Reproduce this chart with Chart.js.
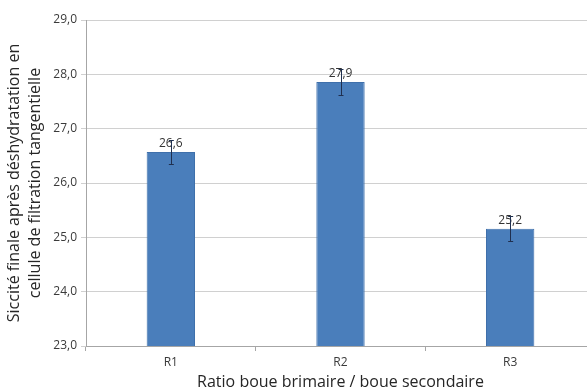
<!DOCTYPE html>
<html>
<head>
<meta charset="utf-8">
<script src="https://cdn.jsdelivr.net/npm/chart.js@4"></script>
<style>
  html, body { margin: 0; padding: 0; background: #fff; overflow: hidden; }
  #wrap { width: 595px; height: 392px; position: relative; }
</style>
</head>
<body>
<div id="wrap"><canvas id="chart"></canvas></div>
<script>
// données
const categories = ['R1', 'R2', 'R3'];
const siccite = [26.57, 27.86, 25.16];
const ecartType = [0.22, 0.24, 0.23];
const yTicks = [23, 24, 25, 26, 27, 28, 29];

const fontFamily = "'Open Sans', sans-serif";

// barres d'erreur + étiquettes de valeur
const errorBarsPlugin = {
    id: 'errorBars',
    afterDatasetsDraw(chart) {
        const ctx = chart.ctx;
        const meta = chart.getDatasetMeta(0);
        const y = chart.scales.y;
        ctx.save();
        meta.data.forEach((bar, i) => {
            const v = siccite[i];
            const e = ecartType[i];
            const x = bar.x;
            const yTop = y.getPixelForValue(v + e);
            const yBot = y.getPixelForValue(v - e);

            // étiquette
            ctx.fillStyle = '#333333';
            ctx.font = '12px ' + fontFamily;
            ctx.textAlign = 'center';
            ctx.textBaseline = 'bottom';
            ctx.fillText(v.toFixed(1).replace('.', ','), x, bar.y - 2);

            // barre d'erreur
            ctx.strokeStyle = '#1f2f4f';
            ctx.lineWidth = 1;
            ctx.beginPath();
            ctx.moveTo(Math.round(x) + 0.5, yTop);
            ctx.lineTo(Math.round(x) + 0.5, yBot);
            ctx.moveTo(x - 2, Math.round(yTop) + 0.5);
            ctx.lineTo(x + 3, Math.round(yTop) + 0.5);
            ctx.moveTo(x - 2, Math.round(yBot) + 0.5);
            ctx.lineTo(x + 3, Math.round(yBot) + 0.5);
            ctx.stroke();
        });
        ctx.restore();
    }
};

const ctx = document.getElementById('chart').getContext('2d');
new Chart(ctx, {
    type: 'bar',
    data: {
        labels: categories,
        datasets: [{
            label: 'Siccité',
            data: siccite,
            backgroundColor: '#4a7ebb',
            borderColor: '#3f70ab',
            borderWidth: 1,
            barPercentage: 0.285,
            categoryPercentage: 1.0
        }]
    },
    options: {
        responsive: true,
        maintainAspectRatio: false,
        animation: false,
        layout: {
            padding: { top: 20, right: 0, bottom: 0, left: 0 }
        },
        plugins: {
            legend: { display: false },
            tooltip: { enabled: false }
        },
        scales: {
            x: {
                grid: {
                    display: true,
                    drawOnChartArea: false,
                    drawTicks: true,
                    tickLength: 5,
                    offset: true,
                    color: '#a6a6a6'
                },
                border: { color: '#a6a6a6' },
                ticks: {
                    color: '#3a3a3a',
                    font: { family: fontFamily, size: 12 },
                    padding: 4
                },
                title: {
                    display: true,
                    text: 'Ratio boue brimaire / boue secondaire',
                    color: '#262626',
                    font: { family: fontFamily, size: 16 },
                    padding: { top: 2, bottom: 0 }
                },
                afterFit(scale) { scale.height = 46; }
            },
            y: {
                min: 23,
                max: 29,
                afterBuildTicks(scale) {
                    scale.ticks = yTicks.map(v => ({ value: v }));
                },
                grid: {
                    color: '#d0d0d0',
                    tickLength: 5
                },
                border: { color: '#a6a6a6' },
                ticks: {
                    color: '#3a3a3a',
                    font: { family: fontFamily, size: 12 },
                    padding: 4,
                    callback: v => v.toFixed(1).replace('.', ',')
                },
                title: {
                    display: true,
                    text: ['Siccité finale après déshydratation en', 'cellule de filtration tangentielle'],
                    color: '#262626',
                    font: { family: fontFamily, size: 16, lineHeight: 1.3 },
                    padding: { top: 4, bottom: 0 }
                },
                afterFit(scale) { scale.width = 86; }
            }
        }
    },
    plugins: [errorBarsPlugin]
});
</script>
</body>
</html>
